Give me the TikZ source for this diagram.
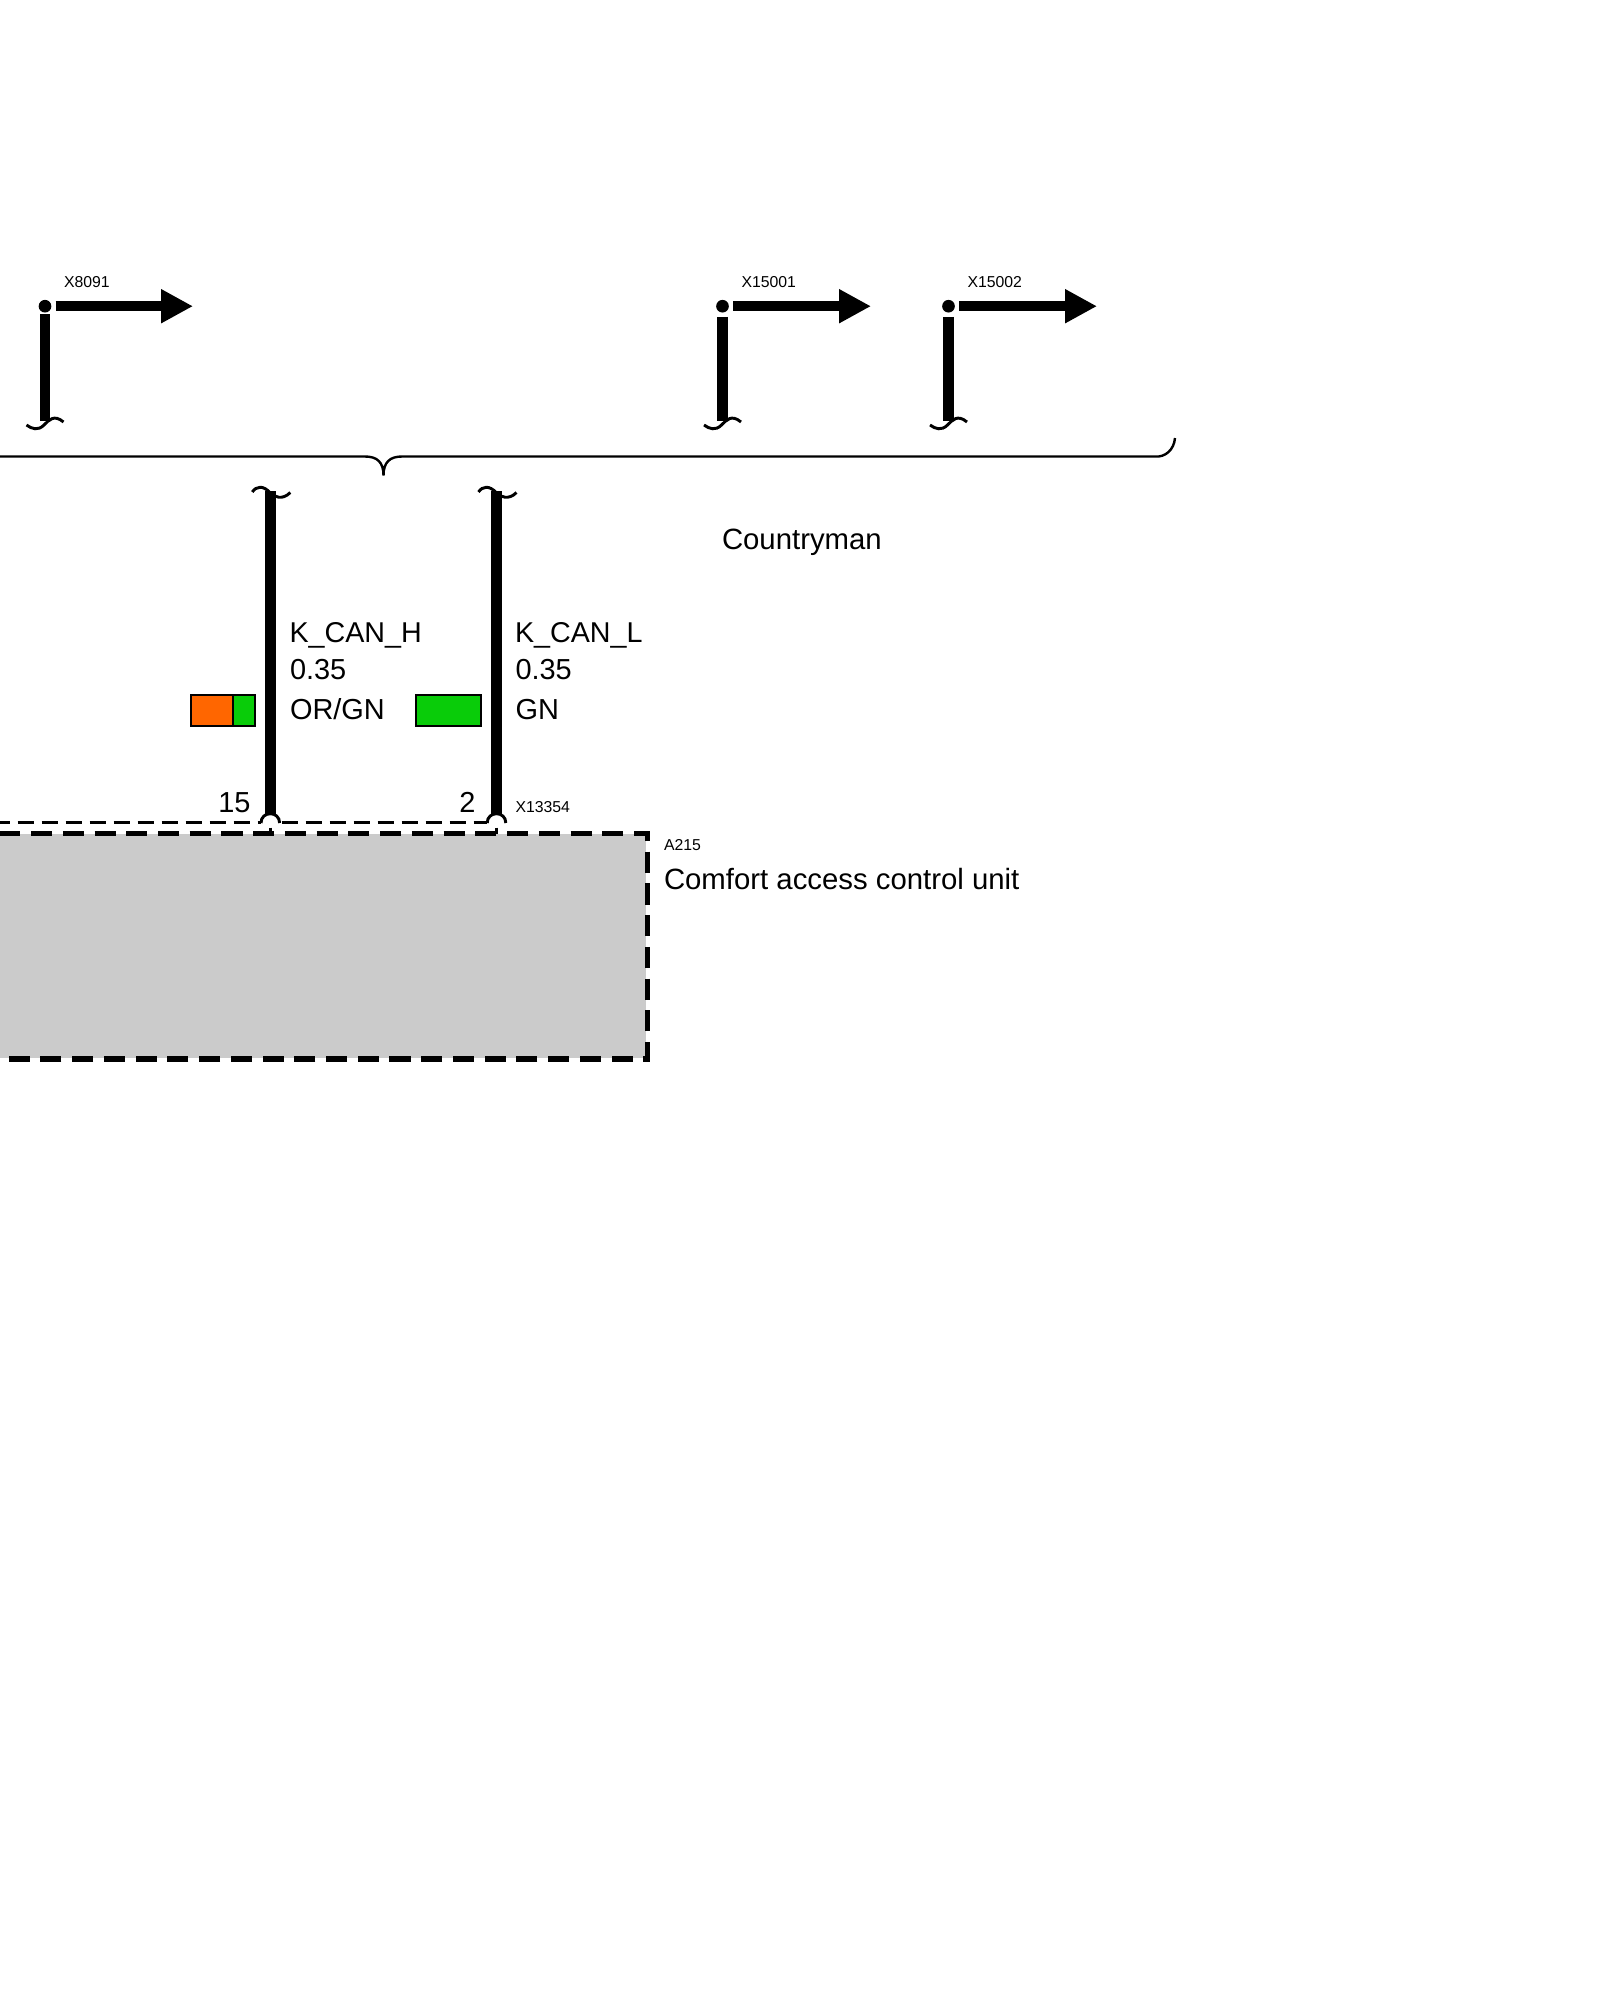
\documentclass[tikz,border=0pt]{standalone}
\usepackage{fontspec}
\setmainfont{Liberation Sans}
\usetikzlibrary{arrows.meta}
\definecolor{panelgray}{HTML}{CBCBCB}
\definecolor{wireor}{HTML}{FF6600}
\definecolor{wiregn}{HTML}{09CC09}
\tikzset{
  big/.style={inner sep=0pt,outer sep=0pt,anchor=base west,font=\fontsize{21.7pt}{24pt}\selectfont},
  bigname/.style={inner sep=0pt,outer sep=0pt,anchor=base west,font=\fontsize{21.5pt}{24pt}\selectfont},
  large/.style={inner sep=0pt,outer sep=0pt,anchor=base west,font=\fontsize{22pt}{24pt}\selectfont},
  small/.style={inner sep=0pt,outer sep=0pt,anchor=base west,font=\fontsize{11.85pt}{14pt}\selectfont},
  pinright/.style={inner sep=0pt,outer sep=0pt,anchor=base east,font=\fontsize{21.7pt}{24pt}\selectfont},
  junction/.style={circle,fill=black,draw=none,minimum size=9.5pt,inner sep=0pt,outer sep=3.2pt},
  wire/.style={line width=7.8pt,black},
  arrowwire/.style={wire,-{Triangle[length=24pt,width=24pt]}},
  thinline/.style={line width=2.2pt,black},
  bracepath/.style={line width=1.8pt,black},
  connline/.style={line width=1.8pt,black,dash pattern=on 12.4pt off 5.6pt},
  boxline/.style={line width=3.9pt,black,dash pattern=on 15.8pt off 8pt},
  swatch/.style={draw=black,line width=1.5pt},
  squigdown/.pic={\draw[thinline] (-18.5,4) .. controls (-13,8) and (-7,10) .. (-1,4) .. controls (4,-1) and (9,-7) .. (18.5,1);},
  squigup/.pic={\draw[thinline] (-18,1) .. controls (-14,-5) and (-7,-6) .. (0,2) .. controls (4,6) and (12,9.5) .. (20,1.5);}
}
\begin{document}
\begin{tikzpicture}[x=0.75pt,y=-0.75pt]
\useasboundingbox (0,0) rectangle (1600,2000);
\clip (0,0) rectangle (1600,2000);
\fill[white] (0,0) rectangle (1600,2000);

% output stubs
\node[junction] (d1) at (45,306.2) {};
\node[junction] (d2) at (722.5,306.2) {};
\node[junction] (d3) at (948.5,306.2) {};
\coordinate (t1) at (193,306.2);
\coordinate (t2) at (871,306.2);
\coordinate (t3) at (1097,306.2);
\coordinate (e1) at (45,421);
\coordinate (e2) at (722.5,421);
\coordinate (e3) at (948.5,421);
\draw[arrowwire] (d1.east) -- (t1);
\draw[arrowwire] (d2.east) -- (t2);
\draw[arrowwire] (d3.east) -- (t3);
\draw[wire,shorten <=-2pt] (d1.south) -- (e1);
\draw[wire] (d2.south) -- (e2);
\draw[wire] (d3.south) -- (e3);
\pic at (e1) {squigdown};
\pic at (e2) {squigdown};
\pic at (e3) {squigdown};
\node[small] (l1) at (64,287) {X8091};
\node[small] (l2) at (741.5,287) {X15001};
\node[small] (l3) at (967.5,287) {X15002};

% brace
\draw[bracepath] (0,456.5) -- (365,456.5) .. controls (377,456.5) and (383.5,462) .. (383.5,475.5)
  .. controls (383.5,462) and (390,456.5) .. (402,456.5) -- (1155,456.5)
  .. controls (1165,457.5) and (1174,450) .. (1175,438);
\node[large] (country) at (722,549.5) {Countryman};

% control unit
\fill[panelgray] (-36,834) rectangle (646,1058);
\draw[boxline] (-32.4,833.5) -- (647.5,833.5) -- (647.5,1059) -- (-32.4,1059) -- cycle;

% incoming wires
\coordinate (w1t) at (270.3,491);
\coordinate (w2t) at (496.5,491);
\coordinate (w1b) at (270.3,815);
\coordinate (w2b) at (496.5,815);
\draw[wire] (w1t) -- (w1b);
\draw[wire] (w2t) -- (w2b);
\pic at (w1t) {squigup};
\pic at (w2t) {squigup};

% pins
\coordinate (a1l) at (261,823);
\coordinate (a1r) at (279.6,823);
\coordinate (a2l) at (487.2,823);
\coordinate (a2r) at (505.8,823);
\draw[thinline] (a1l) .. controls (261,810.6) and (279.6,810.6) .. (a1r);
\draw[thinline] (a2l) .. controls (487.2,810.6) and (505.8,810.6) .. (a2r);
\draw[connline] (-6.3,822.5) -- (a1l |- 0,822.5);
\draw[connline] (281.7,822.5) -- (a2l |- 0,822.5);
\coordinate (p1a) at (270.5,827.5);
\coordinate (p1b) at (270.5,834);
\coordinate (p2a) at (496.5,827.5);
\coordinate (p2b) at (496.5,834);
\draw[bracepath] (p1a) -- (p1b);
\draw[bracepath] (p2a) -- (p2b);

% wire labels
\node[bigname] (h1) at (289.5,642.3) {K\_CAN\_H};
\node[big] (h2) at (290,679.3) {0.35};
\node[big] (h3) at (290,719.3) {OR/GN};
\node[bigname] (g1) at (515,642.3) {K\_CAN\_L};
\node[big] (g2) at (515.5,679.3) {0.35};
\node[big] (g3) at (515.5,719.3) {GN};
\node[pinright] (n15) at (250.5,812) {15};
\node[pinright] (n2) at (475.5,812) {2};
\node[small] (x13) at (515.5,812.5) {X13354};
\node[small] (a215) at (664,850) {A215};
\node[large] (comfort) at (664,889.5) {Comfort access control unit};

% swatches
\draw[swatch,fill=wireor] (191,695.3) rectangle (233.3,725.7);
\draw[swatch,fill=wiregn] (233.3,695.3) rectangle (255,725.7);
\draw[swatch,fill=wiregn] (416.3,695.3) rectangle (481,725.7);
\end{tikzpicture}
\end{document}
